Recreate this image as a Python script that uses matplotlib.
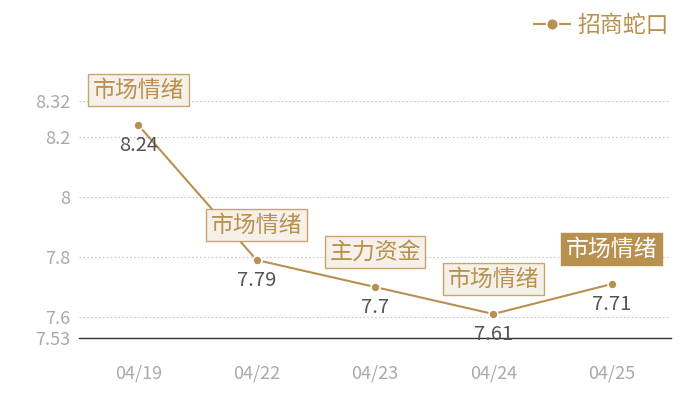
import matplotlib.pyplot as plt

plt.rcParams['font.family'] = ['Noto Sans CJK SC', 'DejaVu Sans']

dates = ["04/19", "04/22", "04/23", "04/24", "04/25"]
prices = [8.24, 7.79, 7.70, 7.61, 7.71]
tags = ["市场情绪", "市场情绪", "主力资金", "市场情绪", "市场情绪"]
highlight = [False, False, False, False, True]
yticks = [7.53, 7.6, 7.8, 8, 8.2, 8.32]
series_name = "招商蛇口"

GOLD = "#b8904f"
BOX_BG = "#f5f0e8"
BOX_EDGE = "#c9a56e"


def main() -> None:
    fig = plt.figure(figsize=(7, 4), dpi=100)
    ax = fig.add_axes([79 / 700, 62 / 400, 592 / 700, 237 / 400])
    xs = list(range(len(dates)))
    ax.plot(xs, prices, color=GOLD, lw=1.5, marker="o", ms=6.5,
            mec="white", mew=1.2, label=series_name, zorder=3)

    for x, y, t, hl in zip(xs, prices, tags, highlight):
        ax.annotate(f"{y:g}", (x, y), xytext=(0, -15), textcoords="offset points",
                    ha="center", va="center", fontsize=14.5, color="#555555",
                    fontweight="light")
        if hl:
            bbox = dict(boxstyle="square,pad=0.2", fc=GOLD, ec=GOLD, lw=1)
            tc = "white"
        else:
            bbox = dict(boxstyle="square,pad=0.2", fc=BOX_BG, ec=BOX_EDGE, lw=1)
            tc = GOLD
        ax.annotate(t, (x, y), xytext=(0, 25), textcoords="offset points",
                    ha="center", va="center", fontsize=16.5, color=tc, bbox=bbox,
                    fontweight="light", zorder=4)

    ax.set_xlim(-0.5, len(dates) - 0.5)
    ax.set_ylim(yticks[0], yticks[-1])
    ax.set_xticks(xs)
    ax.set_xticklabels(dates)
    ax.set_yticks(yticks)
    ax.set_yticklabels([f"{v:g}" for v in yticks])
    ax.tick_params(axis="both", length=0, colors="#aaaaaa", labelsize=13)
    ax.tick_params(axis="x", pad=19)
    ax.tick_params(axis="y", pad=6)
    for lab in ax.get_xticklabels() + ax.get_yticklabels():
        lab.set_fontweight("light")
    for v in yticks[1:]:
        ax.axhline(v, color="#c8c8c8", lw=0.8, ls=(0, (1.5, 2)), zorder=1)
    for s in ["top", "right", "left"]:
        ax.spines[s].set_visible(False)
    ax.spines["bottom"].set_color("#333333")
    ax.spines["bottom"].set_linewidth(1)

    leg = fig.legend(loc="upper right", bbox_to_anchor=(0.975, 1.0), frameon=False,
                     fontsize=16.5, handlelength=1.6, handletextpad=0.3,
                     borderaxespad=0.2, markerscale=1.3)
    for t in leg.get_texts():
        t.set_color(GOLD)
        t.set_fontweight("light")

    fig.savefig("out.png", dpi=100)


if __name__ == "__main__":
    main()
